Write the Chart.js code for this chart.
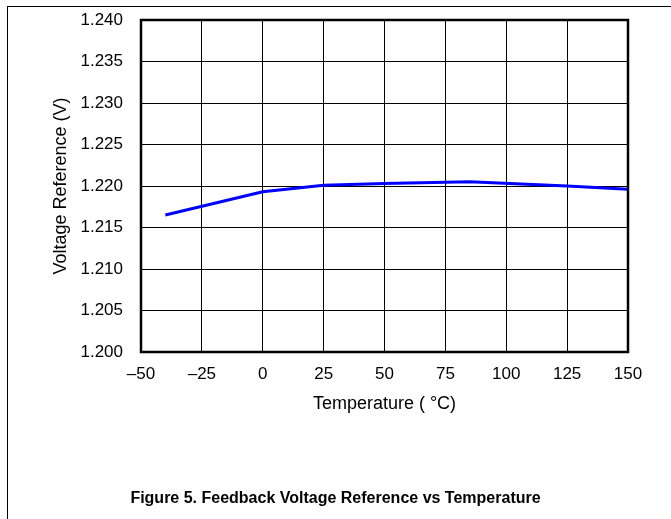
<!DOCTYPE html>
<html>
<head>
<meta charset="utf-8">
<script src="https://cdn.jsdelivr.net/npm/chart.js@4/dist/chart.umd.min.js"></script>
<style>
  html, body { margin: 0; padding: 0; background: #fff; }
  #wrap { position: relative; width: 671px; height: 519px; overflow: hidden; }
  #frame { position: absolute; left: 7px; top: 6px; right: -2px; bottom: -2px;
           border-top: 1px solid #000; border-left: 1px solid #000; pointer-events: none; }
  #chart { position: absolute; left: 0; top: 0; }
  #caption { position: absolute; left: 0; width: 671px; top: 489px; text-align: center;
             font: bold 16px "Liberation Sans", Arial, sans-serif; color: #000; }
</style>
</head>
<body>
<div id="wrap">
  <canvas id="chart" width="671" height="519"></canvas>
  <div id="frame"></div>
  <div id="caption">Figure 5. Feedback Voltage Reference vs Temperature</div>
</div>
<script>
(function () {
  'use strict';

  // 데이터
  var temps = [-40, 0, 25, 50, 85, 125, 150];
  var vref = [1.2165, 1.2193, 1.2201, 1.2203, 1.2205, 1.2200, 1.2196];
  var xTicks = [-50, -25, 0, 25, 50, 75, 100, 125, 150];
  var yTicks = [1.200, 1.205, 1.210, 1.215, 1.220, 1.225, 1.230, 1.235, 1.240];

  var points = temps.map(function (t, i) { return { x: t, y: vref[i] }; });
  var tickFont = { family: '"Liberation Sans", Arial, sans-serif', size: 17 };
  var titleFont = { family: '"Liberation Sans", Arial, sans-serif', size: 18 };

  // 플롯 테두리
  var borderBox = {
    id: 'borderBox',
    afterDraw: function (chart) {
      var a = chart.chartArea;
      var c = chart.ctx;
      c.save();
      c.strokeStyle = '#000';
      c.lineWidth = 2.5;
      c.strokeRect(a.left, a.top, a.right - a.left, a.bottom - a.top);
      c.restore();
    }
  };

  new Chart(document.getElementById('chart').getContext('2d'), {
    type: 'line',
    data: {
      datasets: [{
        data: points,
        borderColor: '#0000ff',
        borderWidth: 3,
        pointRadius: 0,
        tension: 0,
        fill: false
      }]
    },
    plugins: [borderBox],
    options: {
      responsive: false,
      animation: false,
      layout: { padding: { top: 20, right: 43, bottom: 0, left: 0 } },
      plugins: { legend: { display: false }, tooltip: { enabled: false } },
      scales: {
        x: {
          type: 'linear',
          min: -50,
          max: 150,
          afterBuildTicks: function (s) { s.ticks = xTicks.map(function (v) { return { value: v }; }); },
          afterFit: function (s) { s.height = 167; s.paddingLeft = 0; s.paddingRight = 0; },
          grid: { color: '#000', lineWidth: 1, drawTicks: false },
          border: { display: false },
          ticks: {
            color: '#000',
            font: tickFont,
            padding: 12,
            maxRotation: 0,
            callback: function (v) { return String(v).replace('-', '\u2013'); }
          },
          title: {
            display: true,
            text: 'Temperature ( \u00b0C)',
            color: '#000',
            font: titleFont,
            padding: { top: 0, bottom: 104 }
          }
        },
        y: {
          type: 'linear',
          min: 1.200,
          max: 1.240,
          afterBuildTicks: function (s) { s.ticks = yTicks.map(function (v) { return { value: v }; }); },
          afterFit: function (s) { s.width = 141; s.paddingTop = 0; s.paddingBottom = 0; },
          grid: { color: '#000', lineWidth: 1, drawTicks: false },
          border: { display: false },
          ticks: {
            color: '#000',
            font: tickFont,
            padding: 18,
            callback: function (v) { return v.toFixed(3); }
          },
          title: {
            display: true,
            text: 'Voltage Reference (V)',
            color: '#000',
            font: titleFont,
            padding: { top: 50, bottom: 0 }
          }
        }
      }
    }
  });
})();
</script>
</body>
</html>
